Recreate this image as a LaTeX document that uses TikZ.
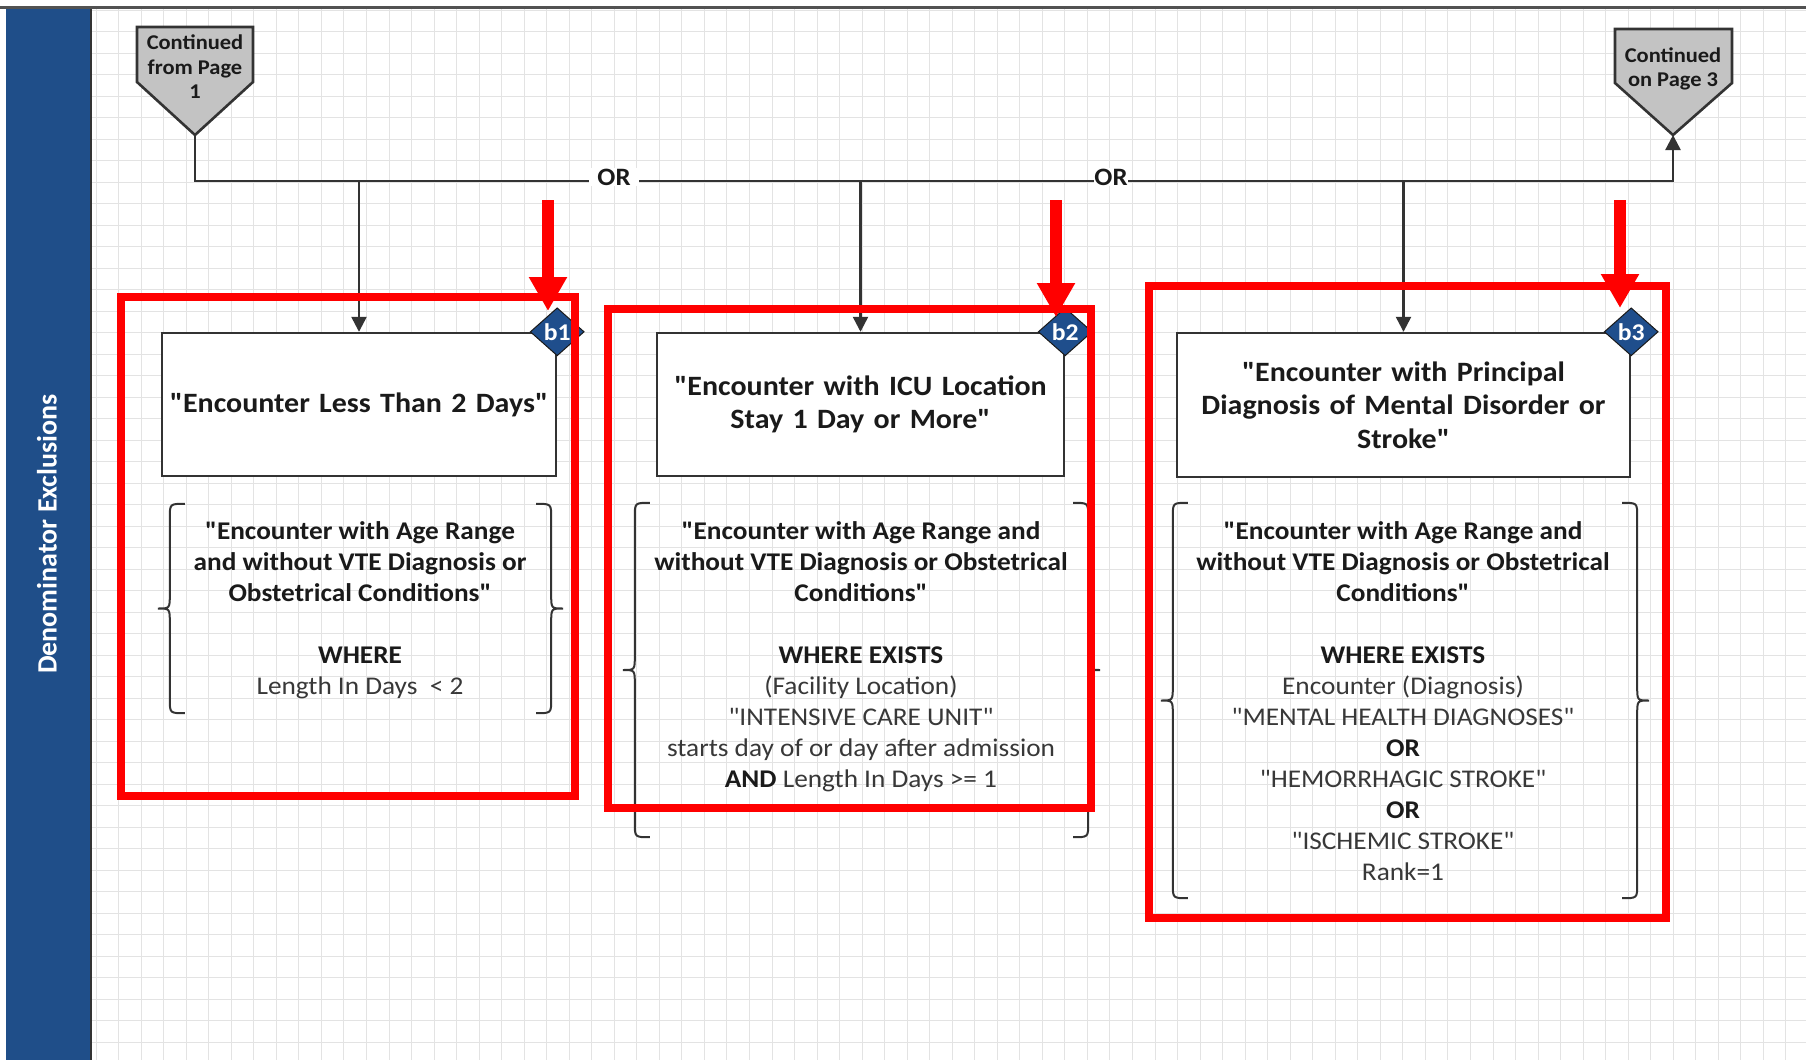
\documentclass[tikz,border=0pt]{standalone}
\usepackage{fontspec}
\setmainfont{Carlito}[FakeStretch=1.07, Ligatures=TeXOff]
\newfontfamily\lanefont{Carlito}[Ligatures=TeXOff]
\usetikzlibrary{arrows.meta,shapes.geometric,calc}
\definecolor{laneblue}{HTML}{1F4E89}
\definecolor{gridc}{HTML}{E3E3E3}
\definecolor{ink}{HTML}{1A1A1A}
\definecolor{soft}{HTML}{383838}
\definecolor{linec}{HTML}{333333}
\definecolor{pentfill}{HTML}{C3C3C3}
\definecolor{dmdblue}{HTML}{1F4E8C}
\definecolor{hired}{HTML}{FF0000}
\newcommand\firststrut{\rule{0pt}{0.8em}}
\newcommand\rg[1]{{\mdseries\color{soft}#1}}
\newcommand\bracepair[1]{%
 \draw[bracepath] ([xshift=27pt]#1.north west) .. controls ([xshift=12pt]#1.north west) .. ([xshift=12pt,yshift=-14pt]#1.north west)
   -- ([xshift=12pt,yshift=14pt]#1.west) .. controls ([xshift=12pt]#1.west) .. (#1.west)
   .. controls ([xshift=12pt]#1.west) .. ([xshift=12pt,yshift=-14pt]#1.west)
   -- ([xshift=12pt,yshift=14pt]#1.south west) .. controls ([xshift=12pt]#1.south west) .. ([xshift=27pt]#1.south west);
 \draw[bracepath] ([xshift=-27pt]#1.north east) .. controls ([xshift=-12pt]#1.north east) .. ([xshift=-12pt,yshift=-14pt]#1.north east)
   -- ([xshift=-12pt,yshift=14pt]#1.east) .. controls ([xshift=-12pt]#1.east) .. (#1.east)
   .. controls ([xshift=-12pt]#1.east) .. ([xshift=-12pt,yshift=-14pt]#1.east)
   -- ([xshift=-12pt,yshift=14pt]#1.south east) .. controls ([xshift=-12pt]#1.south east) .. ([xshift=-27pt]#1.south east);
}
\tikzset{
  gridline/.style={gridc, line width=1pt},
  conn/.style={linec, line width=2.4pt},
  tipped/.style={-{Triangle[width=15pt,length=15pt]}},
  pent/.style={fill=pentfill, draw=linec, line width=2.6pt, line join=miter},
  penttext/.style={align=center, inner sep=0pt, text=ink, font=\bfseries\fontsize{21}{24.5}\selectfont},
  procbox/.style={draw=linec, line width=2.4pt, fill=white, align=center, inner sep=0pt, text=ink,
    font=\bfseries\fontsize{28}{33.5}\selectfont},
  dmd/.style={diamond, draw=ink, line width=1pt, fill=dmdblue, text=white, inner sep=0pt,
    font=\bfseries\fontsize{24}{24}\selectfont, minimum width=54pt, minimum height=48pt},
  bracearea/.style={inner sep=0pt, draw=none},
  bracepath/.style={linec, line width=2pt},
  blocktext/.style={align=center, inner sep=0pt, text=ink, anchor=north,
    font=\bfseries\fontsize{25.5}{31}\selectfont},
  orlabel/.style={fill=white, text=ink, inner ysep=1pt, font=\bfseries\fontsize{25}{25}\selectfont},
  redbox/.style={hired, line width=8pt},
  redarrow/.style={hired, line width=12pt, -{Triangle[width=36pt,length=34pt]}},
}
\begin{document}
\begin{tikzpicture}[x=1pt,y=-1pt]
\useasboundingbox (0,0) rectangle (1806,1060);
\fill[white] (0,0) rectangle (1806,1060);
% grid
\foreach \i in {4,...,79} \draw[gridline] ({6+22.53*\i},9) -- ({6+22.53*\i},1060);
\foreach \j in {0,...,49} \draw[gridline] (91,{10+21.507*\j}) -- (1806,{10+21.507*\j});
% top rule and swimlane bar
\draw[linec!85, line width=2.5pt] (0,7.5) -- (1806,7.5);
\fill[laneblue] (6,9) rectangle (91,1060);
\draw[linec, line width=1.5pt] (91,9) -- (91,1060);
\node[rotate=90, text=white, inner sep=0pt, font=\lanefont\bfseries\fontsize{28}{28}\selectfont] (lane) at (47,534) {Denominator Exclusions};
% off-page connectors
\draw[pent] (137,27) -- (253,27) -- (253,82) -- (195,135) -- (137,82) -- cycle;
\coordinate (p1tip) at (195,135);
\node[penttext] (p1) at (195,67) {Continued\\from Page\\1};
\draw[pent] (1615,29) -- (1732,29) -- (1732,83) -- (1673,135) -- (1615,83) -- cycle;
\coordinate (p2tip) at (1673,135);
\node[penttext] (p2) at (1673,69) {Continued\\on Page 3};
% process boxes
\node[procbox, minimum width=394pt, minimum height=143pt, text width=380pt] (box1) at (359,404.5) {"Encounter Less Than 2 Days"};
\node[procbox, minimum width=407pt, minimum height=143pt, text width=395pt] (box2) at (860.5,404.5) {"Encounter with ICU Location\\Stay 1 Day or More"};
\node[procbox, minimum width=453pt, minimum height=144pt, text width=440pt] (box3) at (1403.5,405) {"Encounter with Principal\\Diagnosis of Mental Disorder or\\Stroke"};
% main connector line
\coordinate (jl) at (195,181);
\coordinate (jr) at (1673,181);
\draw[conn, tipped, line join=miter] (p1tip) -- (jl) -- (jr) -- (p2tip);
\draw[conn, tipped] (box1.north |- jl) -- (box1.north);
\draw[conn, tipped] (box2.north |- jl) -- (box2.north);
\draw[conn, tipped] (box3.north |- jl) -- (box3.north);
\node[orlabel, inner xsep=8pt] (or1) at (614,177) {OR};
\node[orlabel, inner xsep=0pt] (or2) at (1111,177) {OR};
% diamonds
\node[dmd] (b1) at (box1.north east) {b1};
\node[dmd] (b2) at (box2.north east) {b2};
\node[dmd] (b3) at (box3.north east) {b3};
% bracketed criteria
\node[bracearea, minimum width=405pt, minimum height=209pt] (br1) at (360.5,608.5) {};
\node[blocktext] (t1) at (360,519) {\firststrut"Encounter with Age Range\\and without VTE Diagnosis or\\Obstetrical Conditions"\\[31pt]WHERE\\\rg{Length In Days\ \ {}< 2}};
\bracepair{br1}
\node[bracearea, minimum width=477pt, minimum height=334pt] (br2) at (861.5,670) {};
\node[blocktext] (t2) at (861,519) {\firststrut"Encounter with Age Range and\\without VTE Diagnosis or Obstetrical\\Conditions"\\[31pt]WHERE EXISTS\\\rg{(Facility Location)}\\\rg{"INTENSIVE CARE UNIT"}\\\rg{starts day of or day after admission}\\AND \rg{Length In Days >= 1}};
\bracepair{br2}
\node[bracearea, minimum width=488pt, minimum height=395pt] (br3) at (1405,700.5) {};
\node[blocktext] (t3) at (1403,519) {\firststrut"Encounter with Age Range and\\without VTE Diagnosis or Obstetrical\\Conditions"\\[31pt]WHERE EXISTS\\\rg{Encounter (Diagnosis)}\\\rg{"MENTAL HEALTH DIAGNOSES"}\\OR\\\rg{"HEMORRHAGIC STROKE"}\\OR\\\rg{"ISCHEMIC STROKE"}\\\rg{Rank=1}};
\bracepair{br3}
% red highlights
\draw[redbox] (121,297) rectangle (575,796);
\draw[redbox] (608,309) rectangle (1091,808);
\draw[redbox] (1149,286) rectangle (1666,918);
\coordinate (r1s) at (548,200); \coordinate (r1e) at (548,311);
\coordinate (r2s) at (1056,200); \coordinate (r2e) at (1056,317);
\coordinate (r3s) at (1620,200); \coordinate (r3e) at (1620,308);
\draw[redarrow] (r1s) -- (r1e);
\draw[redarrow] (r2s) -- (r2e);
\draw[redarrow] (r3s) -- (r3e);
\end{tikzpicture}
\end{document}
